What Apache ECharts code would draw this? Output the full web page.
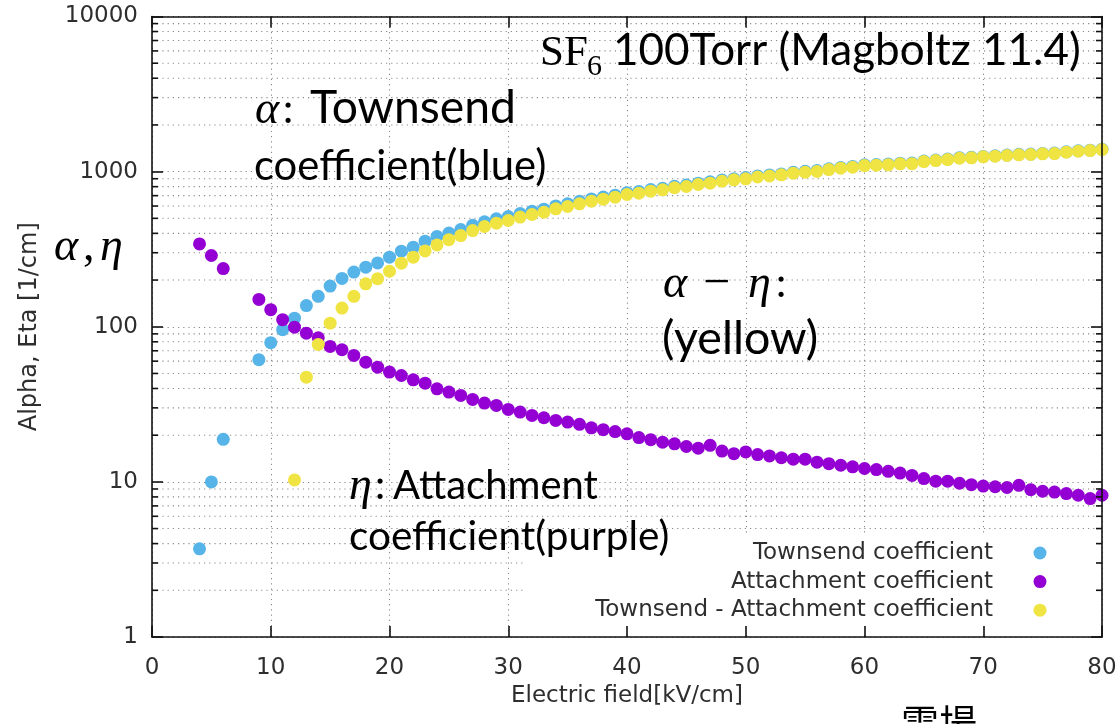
<!DOCTYPE html>
<html>
<head>
<meta charset="utf-8">
<script src="https://cdn.jsdelivr.net/npm/echarts@6/dist/echarts.min.js"></script>
<style>
  html, body { margin: 0; padding: 0; background: #fff; }
  #chart { width: 1120px; height: 724px; }
</style>
</head>
<body>
<div id="chart"></div>
<script>
// Electric field samples [kV/cm]
const fieldTownsend = [4, 5, 6, 9, 10, 11, 12, 13, 14, 15, 16, 17, 18, 19, 20, 21, 22, 23, 24,
  25, 26, 27, 28, 29, 30, 31, 32, 33, 34, 35, 36, 37, 38, 39, 40, 41, 42, 43, 44, 45, 46, 47, 48, 49, 50,
  51, 52, 53, 54, 55, 56, 57, 58, 59, 60, 61, 62, 63, 64, 65, 66, 67, 68, 69, 70, 71, 72, 73, 74, 75, 76,
  77, 78, 79, 80];
const fieldAttachment = [4, 5, 6, 9, 10, 11, 12, 13, 14, 15, 16, 17, 18, 19, 20, 21, 22, 23, 24,
  25, 26, 27, 28, 29, 30, 31, 32, 33, 34, 35, 36, 37, 38, 39, 40, 41, 42, 43, 44, 45, 46, 47, 48, 49, 50,
  51, 52, 53, 54, 55, 56, 57, 58, 59, 60, 61, 62, 63, 64, 65, 66, 67, 68, 69, 70, 71, 72, 73, 74, 75, 76,
  77, 78, 79, 80];
const fieldNet = [12, 13, 14, 15, 16, 17, 18, 19, 20, 21, 22, 23, 24,
  25, 26, 27, 28, 29, 30, 31, 32, 33, 34, 35, 36, 37, 38, 39, 40, 41, 42, 43, 44, 45, 46, 47, 48, 49, 50,
  51, 52, 53, 54, 55, 56, 57, 58, 59, 60, 61, 62, 63, 64, 65, 66, 67, 68, 69, 70, 71, 72, 73, 74, 75, 76,
  77, 78, 79, 80];

// Townsend coefficient alpha [1/cm]
const townsend = [3.7, 10.0, 18.8, 61.3, 78.9, 95.7, 113.6, 137, 157, 183, 205, 225, 242, 258, 281, 307, 326, 356, 382,
  402, 423, 451, 475, 496, 513, 537, 556, 573, 601, 620, 644, 667, 686, 705, 732, 745, 767, 781, 805, 819, 843, 859, 883, 900, 915,
  938, 952, 967, 991, 1005, 1015, 1044, 1065, 1080, 1106, 1112, 1118, 1133, 1136, 1171, 1188, 1206, 1230, 1237, 1254, 1265, 1279,
  1292, 1298, 1311, 1317, 1342, 1361, 1375, 1396];

// Attachment coefficient eta [1/cm]
const attachment = [342, 288, 237, 150, 128.8, 111, 99.4, 90.9, 84.9, 74.7, 71.1, 65.3, 59.1, 54.9, 51.0, 48.5, 45.5, 43.3, 39.8,
  37.9, 36.1, 34.0, 32.2, 31.1, 29.3, 28.2, 26.8, 25.9, 24.9, 24.3, 23.5, 22.3, 21.7, 21.1, 20.4, 19.3, 18.7, 18.0, 17.6, 16.9, 16.5,
  17.2, 15.8, 15.2, 15.6, 15.0, 14.7, 14.3, 14.0, 14.0, 13.4, 13.1, 12.8, 12.5, 12.2, 12.0, 11.7, 11.4, 11.0, 10.5, 10.1, 10.1,
  9.8, 9.6, 9.4, 9.3, 9.2, 9.5, 8.9, 8.7, 8.6, 8.4, 8.2, 7.8, 8.2];

// Townsend - Attachment coefficient (alpha - eta) [1/cm]
const net = [10.3, 47.3, 76.9, 105.5, 132, 157, 189, 204, 228, 257, 281, 308, 337,
  364, 387, 417, 443, 465, 484, 509, 529, 547, 576, 596, 620, 645, 664, 684, 712, 726, 748, 763, 787, 802, 826, 842, 867, 885, 899,
  923, 937, 953, 977, 991, 1002, 1031, 1052, 1067, 1094, 1100, 1106, 1122, 1125, 1161, 1178, 1196, 1220, 1227, 1245, 1256, 1270,
  1283, 1289, 1302, 1308, 1334, 1353, 1367, 1388];

const seriesNames = ['Townsend coefficient', 'Attachment coefficient', 'Townsend - Attachment coefficient'];
const seriesColors = ['#56b4e9', '#9400d3', '#f0e442'];

const xTicks = [0, 10, 20, 30, 40, 50, 60, 70, 80];
const yTickLabels = ['1', '10', '100', '1000', '10000'];
const yMinorTicks = [2, 3, 4, 5, 6, 7, 8, 9, 20, 30, 40, 50, 60, 70, 80, 90,
  200, 300, 400, 500, 600, 700, 800, 900, 2000, 3000, 4000, 5000, 6000, 7000, 8000, 9000];

const X_MIN = xTicks[0], X_MAX = xTicks[xTicks.length - 1];
const Y_MIN = 1, Y_MAX = 10000;

const GRID_COLOR = '#8a8a8a';
const GRID_DASH = [1.2, 4];
const AXIS_COLOR = '#111';
const LABEL_COLOR = '#2e2e2e';
const LABEL_FONT = 'DejaVu Sans';
const LABEL_SIZE = 23;
const NOTE_FONT = 'Lato';
const MATH_FONT = '"Liberation Serif"';
const MARK_SIZE = 13;

// ---- text layout helpers ----
const mctx = document.createElement('canvas').getContext('2d');
function fitSize(text, family, style, width) {
  mctx.font = style + ' 100px ' + family;
  return 100 * width / mctx.measureText(text).width;
}
function midY(font, baseline) {
  mctx.font = font;
  mctx.textBaseline = 'alphabetic';
  const a = mctx.measureText('H').actualBoundingBoxAscent;
  mctx.textBaseline = 'middle';
  const m = mctx.measureText('H').actualBoundingBoxAscent;
  return baseline - (a - m);
}
function run(text, x, baseline, font) {
  return {
    type: 'text', x: x, y: midY(font, baseline), z: 20, silent: true,
    style: { text: text, font: font, fill: '#000', align: 'left', verticalAlign: 'middle' }
  };
}
function noteRun(text, x, baseline, width) {
  const size = fitSize(text, NOTE_FONT, '', width);
  return run(text, x, baseline, size.toFixed(1) + 'px ' + NOTE_FONT);
}
const mathItalic = s => 'italic ' + s + 'px ' + MATH_FONT;
const mathUpright = s => s + 'px ' + MATH_FONT;

const notes = [
  // title
  run('SF', 540, 65, mathUpright(43)),
  run('6', 587, 75, mathUpright(30)),
  noteRun('100Torr (Magboltz 11.4)', 613, 65, 468),
  // alpha
  run('\u03b1', 255, 123, mathItalic(46)),
  run(':', 282, 123, mathUpright(44)),
  noteRun('Townsend', 310, 123, 206),
  noteRun('coefficient(blue)', 254, 180, 292),
  // alpha - eta
  run('\u03b1', 663, 297, mathItalic(46)),
  run('\u2212', 703, 297, mathUpright(48)),
  run('\u03b7', 748, 297, mathItalic(46)),
  run(':', 775, 297, mathUpright(44)),
  noteRun('(yellow)', 662, 354, 156),
  // eta
  run('\u03b7', 349, 499, mathItalic(46)),
  run(':', 374, 499, mathUpright(44)),
  noteRun('Attachment', 393, 499, 205),
  noteRun('coefficient(purple)', 349, 550, 320),
  // axis symbol
  run('\u03b1', 54, 260, mathItalic(46)),
  run(',', 83, 260, mathUpright(46)),
  run('\u03b7', 100, 260, mathItalic(46)),
  // caption below the frame
  { type: 'text', x: 901, y: 704, z: 20, silent: true,
    style: { text: '電場', font: '38px "Noto Sans CJK JP"', fill: '#000', align: 'left', verticalAlign: 'top' } }
];

// key box (opaque, hides the grid beneath it)
const keyX = 993, keySymX = 1040, keyY0 = 553, keyStep = 28.6;
const keyItems = [];
seriesNames.forEach((name, i) => {
  keyItems.push({ type: 'text', x: keyX, y: keyY0 + i * keyStep, z: 10, silent: true,
    style: { text: name, font: LABEL_SIZE + 'px "' + LABEL_FONT + '"', fill: LABEL_COLOR, align: 'right', verticalAlign: 'middle' } });
  keyItems.push({ type: 'circle', shape: { cx: keySymX, cy: keyY0 + i * keyStep, r: MARK_SIZE / 2 }, z: 10, silent: true,
    style: { fill: seriesColors[i] } });
});
const keyBox = { type: 'rect', shape: { x: 523, y: 534, width: 576, height: 101 }, z: 2, silent: true,
  style: { fill: '#fff' } };

const chart = echarts.init(document.getElementById('chart'), null, { renderer: 'canvas' });

const axisLineStyle = { color: AXIS_COLOR, width: 1.6 };
const xBase = { type: 'value', min: X_MIN, max: X_MAX, interval: xTicks[1] - xTicks[0] };
const yBase = { type: 'log', min: Y_MIN, max: Y_MAX, logBase: 10, splitNumber: yTickLabels.length - 1 };
const labelText = { fontFamily: LABEL_FONT, fontSize: LABEL_SIZE, color: LABEL_COLOR };

const option = {
  animation: false,
  backgroundColor: '#fff',
  grid: { left: 152, right: 18, top: 16.5, bottom: 87, containLabel: false, outerBoundsMode: 'none' },
  xAxis: [
    Object.assign({}, xBase, {
      position: 'bottom', z: 0,
      axisLine: { show: false }, axisTick: { show: false }, axisLabel: { show: false },
      splitLine: { show: true, lineStyle: { color: GRID_COLOR, type: GRID_DASH, width: 1.1 } }
    }),
    Object.assign({}, xBase, {
      position: 'bottom', z: 5,
      axisLine: { show: true, onZero: false, lineStyle: axisLineStyle },
      axisTick: { show: true, inside: true, length: 11, lineStyle: axisLineStyle },
      axisLabel: Object.assign({ show: true, margin: 20 }, labelText),
      splitLine: { show: false },
      name: 'Electric field[kV/cm]', nameLocation: 'middle', nameGap: 31,
      nameTextStyle: labelText
    }),
    Object.assign({}, xBase, {
      position: 'top', z: 5,
      axisLine: { show: true, onZero: false, lineStyle: axisLineStyle },
      axisTick: { show: true, inside: true, length: 11, lineStyle: axisLineStyle },
      axisLabel: { show: false }, splitLine: { show: false }
    })
  ],
  yAxis: [
    Object.assign({}, yBase, {
      position: 'left', z: 0,
      axisLine: { show: false }, axisTick: { show: false }, axisLabel: { show: false },
      splitLine: { show: true, lineStyle: { color: GRID_COLOR, type: GRID_DASH, width: 1.1 } }
    }),
    Object.assign({}, yBase, {
      position: 'left', z: 5,
      axisLine: { show: true, onZero: false, lineStyle: axisLineStyle },
      axisTick: { show: true, inside: true, length: 11, lineStyle: axisLineStyle },
      axisLabel: Object.assign({
        show: true, margin: 14,
        formatter: v => yTickLabels[Math.round(Math.log10(v))]
      }, labelText),
      splitLine: { show: false },
      name: 'Alpha, Eta [1/cm]', nameLocation: 'middle', nameGap: 110, nameRotate: 90,
      nameTextStyle: { fontFamily: LABEL_FONT, fontSize: 24, color: LABEL_COLOR }
    }),
    Object.assign({}, yBase, {
      position: 'right', z: 5,
      axisLine: { show: true, onZero: false, lineStyle: axisLineStyle },
      axisTick: { show: true, inside: true, length: 11, lineStyle: axisLineStyle },
      axisLabel: { show: false }, splitLine: { show: false }
    })
  ],
  series: [
    {
      // minor (2..9 per decade) horizontal grid lines
      type: 'custom', coordinateSystem: 'cartesian2d', xAxisIndex: 0, yAxisIndex: 0,
      z: 1, silent: true, clip: false,
      data: yMinorTicks.map(v => [X_MIN, v]),
      encode: { x: 0, y: 1 },
      renderItem: (params, api) => {
        const v = api.value(1);
        const a = api.coord([X_MIN, v]);
        const b = api.coord([X_MAX, v]);
        return { type: 'line', shape: { x1: a[0], y1: a[1], x2: b[0], y2: b[1] },
          style: { stroke: GRID_COLOR, lineWidth: 1.1, lineDash: GRID_DASH } };
      }
    },
    {
      // minor ticks on the left and right frame
      type: 'custom', coordinateSystem: 'cartesian2d', xAxisIndex: 0, yAxisIndex: 0,
      z: 6, silent: true, clip: false,
      data: yMinorTicks.map(v => [X_MIN, v]),
      encode: { x: 0, y: 1 },
      renderItem: (params, api) => {
        const v = api.value(1);
        const a = api.coord([X_MIN, v]);
        const b = api.coord([X_MAX, v]);
        const st = { stroke: AXIS_COLOR, lineWidth: 1.6 };
        return { type: 'group', children: [
          { type: 'line', shape: { x1: a[0], y1: a[1], x2: a[0] + 6, y2: a[1] }, style: st },
          { type: 'line', shape: { x1: b[0] - 6, y1: b[1], x2: b[0], y2: b[1] }, style: st }
        ] };
      }
    },
    {
      name: seriesNames[0], type: 'scatter', xAxisIndex: 0, yAxisIndex: 0, z: 3,
      symbol: 'circle', symbolSize: MARK_SIZE, itemStyle: { color: seriesColors[0], opacity: 1 },
      data: fieldTownsend.map((x, i) => [x, townsend[i]])
    },
    {
      name: seriesNames[1], type: 'scatter', xAxisIndex: 0, yAxisIndex: 0, z: 3,
      symbol: 'circle', symbolSize: MARK_SIZE, itemStyle: { color: seriesColors[1], opacity: 1 },
      data: fieldAttachment.map((x, i) => [x, attachment[i]])
    },
    {
      name: seriesNames[2], type: 'scatter', xAxisIndex: 0, yAxisIndex: 0, z: 3,
      symbol: 'circle', symbolSize: MARK_SIZE, itemStyle: { color: seriesColors[2], opacity: 1 },
      data: fieldNet.map((x, i) => [x, net[i]])
    }
  ],
  graphic: { elements: [keyBox].concat(keyItems, notes) }
};

chart.setOption(option);
</script>
</body>
</html>
